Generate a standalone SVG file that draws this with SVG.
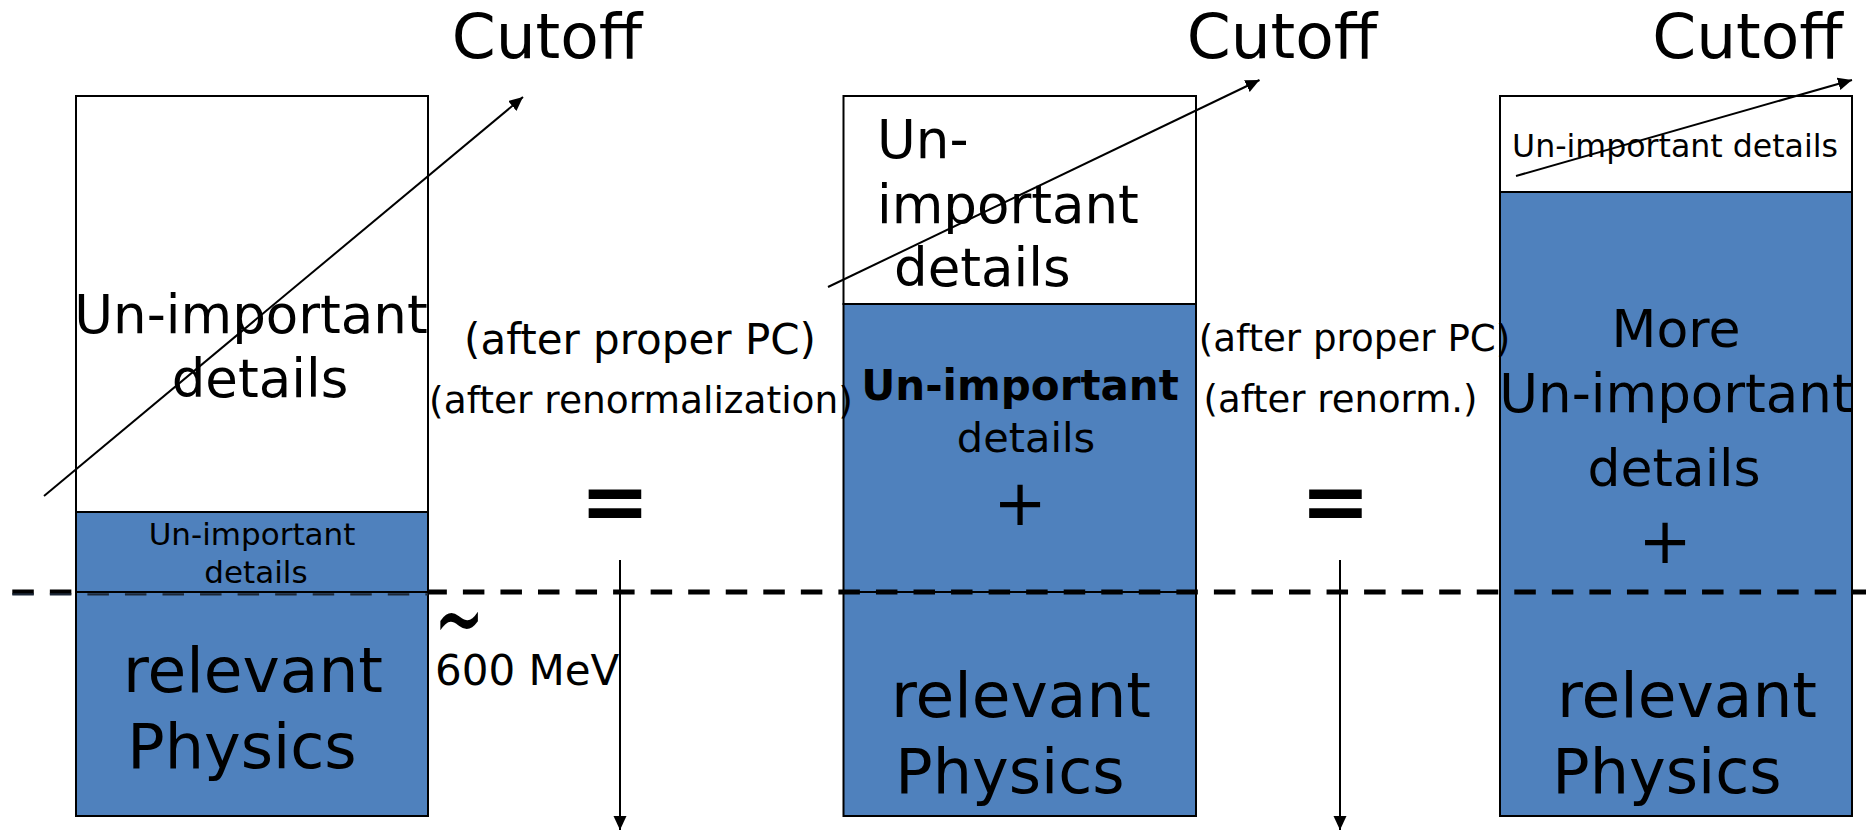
<svg xmlns="http://www.w3.org/2000/svg" width="1866" height="830" viewBox="0 0 1866 830">
<defs>
<style>
text{font-family:"DejaVu Sans","Liberation Sans",sans-serif;fill:#000}
.m{text-anchor:middle}
.w{fill:#ffffff;stroke:#000;stroke-width:2}
.b{fill:#4f81bd;stroke:#000;stroke-width:2}
.ln{stroke:#000;stroke-width:2;fill:none}
.eq{font-weight:bold;font-size:84px;text-anchor:middle}
</style>
<marker id="ah" markerUnits="userSpaceOnUse" markerWidth="16" markerHeight="14" refX="14" refY="6.5" orient="auto"><path d="M0,0 L14,6.5 L0,13 z" fill="#000"/></marker>
</defs>
<rect x="0" y="0" width="1866" height="830" fill="#fff"/>

<g id="box2">
<rect class="w" x="843.5" y="96" width="352.5" height="208"/>
<rect class="b" x="843.5" y="304" width="352.5" height="288"/>
<rect class="b" x="843.5" y="592" width="352.5" height="224"/>
<text x="877" y="158" font-size="53">Un-</text>
<text x="877" y="223" font-size="53">important</text>
<text x="894" y="286" font-size="53">details</text>
<text class="m" x="1020" y="400" font-size="42" font-weight="bold">Un-important</text>
<text class="m" x="1026" y="452" font-size="41.5">details</text>
<text class="m" x="1020" y="525" font-size="64">+</text>
<text class="m" x="1021" y="717" font-size="63">relevant</text>
<text class="m" x="1010" y="793" font-size="62">Physics</text>
</g>

<g id="box3">
<rect class="w" x="1500" y="96" width="352" height="96"/>
<rect class="b" x="1500" y="192" width="352" height="624"/>
<text class="m" x="1675" y="157" font-size="31.6">Un-important details</text>
<text class="m" x="1676" y="347" font-size="52">More</text>
<text class="m" x="1676" y="412" font-size="53">Un-important</text>
<text class="m" x="1674" y="486" font-size="52">details</text>
<text class="m" x="1665" y="563" font-size="64">+</text>
<text class="m" x="1687" y="717" font-size="63">relevant</text>
<text class="m" x="1667" y="793" font-size="62">Physics</text>
</g>

<g id="scale-line">
<line x1="12.3" y1="592" x2="1866" y2="592" stroke="#000" stroke-width="5" stroke-dasharray="21.5 16.05"/>
</g>

<g id="box1">
<rect class="w" x="76" y="96" width="352" height="416"/>
<rect class="b" x="76" y="512" width="352" height="80"/>
<rect class="b" x="76" y="592" width="352" height="224"/>
<line x1="12.3" y1="594.3" x2="428" y2="594.3" stroke="#1c2838" stroke-width="2.2" stroke-dasharray="21.5 16.05"/>
<text class="m" x="251" y="333" font-size="53">Un-important</text>
<text class="m" x="260" y="397" font-size="53">details</text>
<text class="m" x="252" y="545" font-size="31">Un-important</text>
<text class="m" x="256" y="583" font-size="31">details</text>
<text class="m" x="253" y="692" font-size="63">relevant</text>
<text class="m" x="242" y="768" font-size="62">Physics</text>
</g>

<g id="labels">
<text class="m" x="547" y="58" font-size="63">Cutoff</text>
<text class="m" x="1282" y="58" font-size="63">Cutoff</text>
<text class="m" x="1747.5" y="58" font-size="63">Cutoff</text>
<text class="m" x="640" y="354" font-size="42">(after proper PC)</text>
<text class="m" x="641" y="413" font-size="37.5">(after renormalization)</text>
<text class="m" x="1354.5" y="351" font-size="37.2">(after proper PC)</text>
<text class="m" x="1340.5" y="412" font-size="37">(after renorm.)</text>
<text class="eq" x="615" y="530">=</text>
<text class="eq" x="1335.5" y="530">=</text>
<text transform="translate(434,655) scale(1,1.8)" x="0" y="0" font-size="60">~</text>
<text x="435" y="685" font-size="42">600 MeV</text>
</g>

<g id="connectors">
<line class="ln" x1="44" y1="496" x2="523" y2="97" marker-end="url(#ah)"/>
<line class="ln" x1="828" y1="287" x2="1259.5" y2="80" marker-end="url(#ah)"/>
<line class="ln" x1="1516" y1="176" x2="1852" y2="80" marker-end="url(#ah)"/>
<line class="ln" x1="620" y1="560" x2="620" y2="830" marker-end="url(#ah)"/>
<line class="ln" x1="1340" y1="560" x2="1340" y2="830" marker-end="url(#ah)"/>
</g>
</svg>
